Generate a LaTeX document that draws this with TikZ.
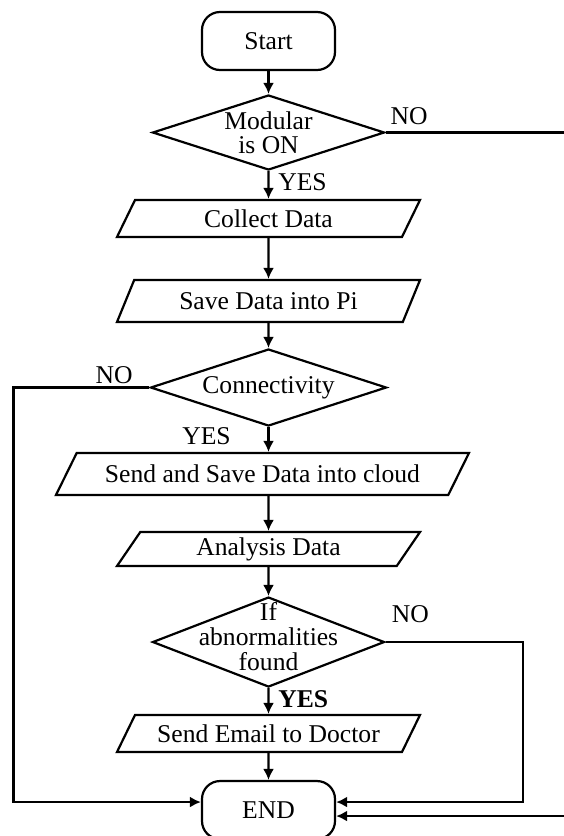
\documentclass[tikz,border=0pt]{standalone}
\usepackage{fontspec}
\setmainfont{Liberation Serif}
\usetikzlibrary{arrows.meta,positioning,shapes.geometric}

\begin{document}
\begin{tikzpicture}[font=\fontsize{12.8}{12}\selectfont,line width=1.1pt,
  term/.style={draw,rounded corners=9pt,minimum width=66.5pt,minimum height=29pt,align=center},
  io/.style={draw,trapezium,trapezium left angle=45,trapezium right angle=135,trapezium stretches body,
    minimum width=151.5pt,minimum height=18.5pt,inner sep=0pt,align=center},
  dec/.style={draw,diamond,aspect=3,minimum width=116pt,inner sep=0pt,align=center},
  >={Latex[length=5.5pt,width=5.5pt]}]
  \useasboundingbox (0,0) rectangle (281.5pt,-418pt);
  \node[term] (start) at (134.25pt,-20.5pt) {Start};
  \node[dec,minimum height=37.5pt,below=11.4pt of start] (mod) {Modular\\is ON};
  \node[io,below=13.9pt of mod] (collect) {Collect Data};
  \node[io,minimum height=21pt,below=20.4pt of collect] (save) {Save Data into Pi};
  \node[dec,minimum width=118pt,minimum height=38.5pt,below=12.4pt of save] (conn) {Connectivity};
  \node[io,trapezium left angle=41,trapezium right angle=139,minimum width=206.5pt,minimum height=21pt,
    below=12.4pt of conn,xshift=-3pt] (cloud) {Send and Save Data into cloud};
  \node[io,minimum height=17pt,below=17.4pt of cloud,xshift=3pt] (analysis) {Analysis Data};
  \node[dec,minimum height=45pt,inner ysep=-16pt,below=14.4pt of analysis,font=\fontsize{12.8}{12.5}\selectfont] (abn)
    {If\\abnormalities\\found\rule[-6pt]{0pt}{6pt}};
  \node[io,below=12.9pt of abn] (email) {Send Email to Doctor};
  \node[term,below=13.4pt of email] (stop) {END};

  % main flow
  \draw[->] (start) -- (mod);
  \draw[->] (mod) -- node[right=1pt,pos=.4]{YES} (collect);
  \draw[->] (collect) -- (save);
  \draw[->] (save) -- (conn);
  \draw[->] (conn) -- node[left=15pt,pos=.37]{YES} (conn |- cloud.north);
  \draw[->] (cloud.south -| analysis) -- (analysis);
  \draw[->] (analysis) -- (abn);
  \draw[->] (abn) -- node[right=1pt,pos=.43]{\bfseries YES} (email);
  \draw[->] (email) -- (stop);

  % NO branches
  \draw[->] (mod.east) -- node[above,pos=.13]{NO} ++(90.3pt,0) |- ([yshift=-3pt]stop.east);
  \draw[->] (conn.west) -- node[above=-2pt,pos=.26]{NO} ++(-68pt,0) |- ([yshift=4pt]stop.west);
  \draw[->] (abn.east) -- node[above=6pt,pos=.18]{NO} ++(68.5pt,0) |- ([yshift=4pt]stop.east);
\end{tikzpicture}
\end{document}
